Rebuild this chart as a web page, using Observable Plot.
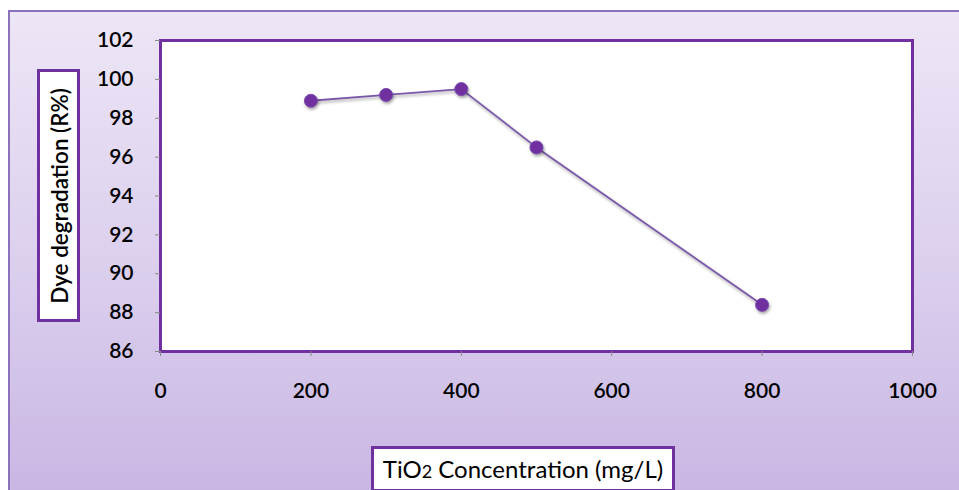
<!DOCTYPE html>
<html>
<head>
<meta charset="utf-8">
<script src="https://cdn.jsdelivr.net/npm/d3@7"></script>
<script src="https://cdn.jsdelivr.net/npm/@observablehq/plot@0.6"></script>
<style>
  html, body { margin: 0; padding: 0; background: #ffffff; }
  body { width: 959px; height: 490px; position: relative; overflow: hidden; font-family: Lato, "Open Sans", sans-serif; }
  #bg { position: absolute; left: 8px; top: 10px; width: 960px; height: 490px;
        border: 2px solid #8c72bd; background: linear-gradient(to bottom, #ede6f6 0%, #dcd0ee 50%, #c8b6e3 100%); }
  #chart { position: absolute; left: 0; top: 0; }
  #chart svg { background: transparent !important; overflow: visible; }
  #chart svg g[aria-label="dot"], #chart svg g[aria-label="line"] { filter: drop-shadow(1px 2px 1.5px rgba(0,0,0,0.35)); }
  #chart svg g[aria-label="x-axis tick label"], #chart svg g[aria-label="y-axis tick label"] { font-weight: 600; }
  .lab { position: absolute; background: #fff; border: 3px solid #7030a0; box-sizing: border-box; color: #000; }
  #ylab { left: 37px; top: 69px; width: 43px; height: 253px; font-size: 22.5px; font-weight: 600; }
  #ylab span { position: absolute; left: 50%; top: 50%; transform: translate(-50%, -50%) rotate(-90deg); white-space: nowrap; }
  #xlab { left: 371px; top: 446px; width: 304px; height: 46px; text-align: center; line-height: 40px; font-size: 24px; }
  #xlab small { font-size: 18px; }
</style>
</head>
<body>
<div id="bg"></div>
<div id="chart"></div>
<div id="ylab" class="lab"><span>Dye degradation (R%)</span></div>
<div id="xlab" class="lab">TiO<small>2</small> Concentration (mg/L)</div>
<script>
const concentration = [200, 300, 400, 500, 800];
const degradation = [98.9, 99.2, 99.5, 96.5, 88.4];
const xTicks = [0, 200, 400, 600, 800, 1000];
const yTicks = [86, 88, 90, 92, 94, 96, 98, 100, 102];

const data = concentration.map((c, i) => ({c, r: degradation[i]}));

const chart = Plot.plot({
  width: 959,
  height: 490,
  marginLeft: 160,
  marginRight: 47,
  marginTop: 40,
  marginBottom: 139,
  style: { fontFamily: "Lato, 'Open Sans', sans-serif", fontSize: "21px", color: "#000", background: "transparent" },
  x: { domain: [0, 1000], label: null },
  y: { domain: [86, 102], label: null },
  marks: [
    Plot.frame({ fill: "white", stroke: "#7030a0", strokeWidth: 3 }),
    Plot.axisX({ ticks: xTicks, tickFormat: d => String(d), tickSize: 5, tickPadding: 27, stroke: "#888", fill: "#000", label: null }),
    Plot.axisY({ ticks: yTicks, tickFormat: d => String(d), tickSize: 5, tickPadding: 22, stroke: "#888", fill: "#000", label: null }),
    Plot.line(data, { x: "c", y: "r", stroke: "#7a58aa", strokeWidth: 1.8 }),
    Plot.dot(data, { x: "c", y: "r", r: 6.5, fill: "#7030a0", stroke: "#7a4bb0", strokeWidth: 1 })
  ]
});
document.getElementById("chart").appendChild(chart);
</script>
</body>
</html>
